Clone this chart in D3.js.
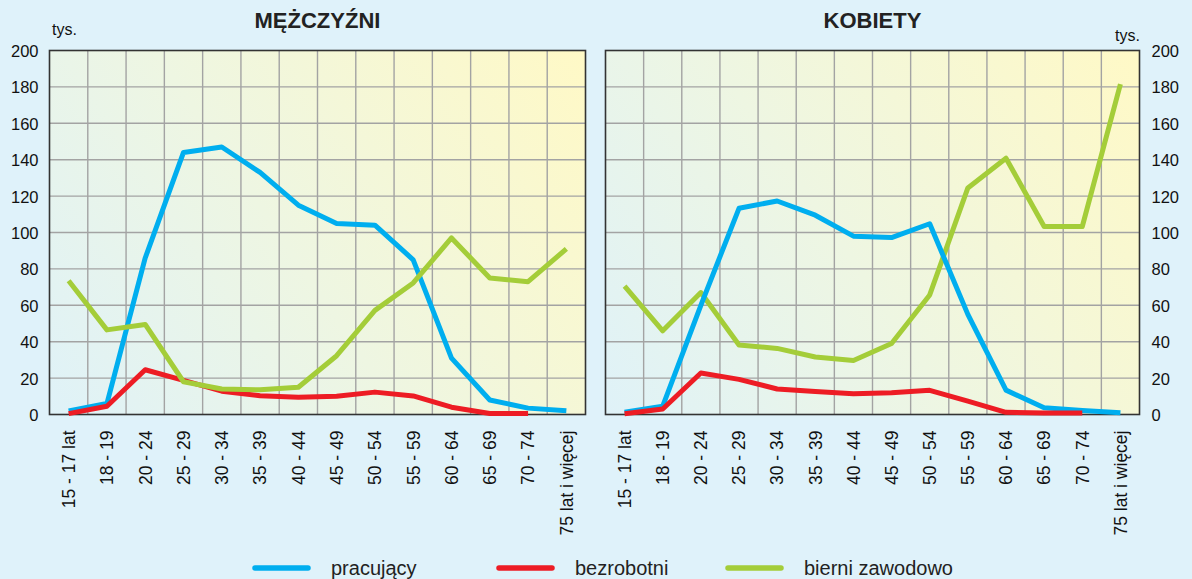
<!DOCTYPE html>
<html>
<head>
<meta charset="utf-8">
<script src="https://cdn.jsdelivr.net/npm/d3@7"></script>
<style>
  html, body { margin: 0; padding: 0; background: #dff2fa; }
  svg { display: block; font-family: "Liberation Sans", Arial, sans-serif; }
</style>
</head>
<body>
<svg id="chart" width="1192" height="579"></svg>
<script>
const categories = ["15 - 17 lat","18 - 19","20 - 24","25 - 29","30 - 34","35 - 39","40 - 44","45 - 49","50 - 54","55 - 59","60 - 64","65 - 69","70 - 74","75 lat i więcej"];
const yTicks = [0,20,40,60,80,100,120,140,160,180,200];

const menEmployed   = [2, 6, 86, 144, 147, 133, 115, 105, 104, 85, 31, 8, 3.5, 2];
const menUnemployed = [0.5, 4.5, 24.6, 18.7, 12.8, 10.3, 9.5, 10, 12.3, 10.2, 4, 0.6, 0.6];
const menInactive   = [73.5, 46.5, 49.5, 18, 14, 13.6, 15, 32.3, 57.2, 72.3, 97, 75, 73, 91];

const womenEmployed   = [1.3, 4.6, 60, 113.3, 117.3, 109.5, 98, 97.2, 104.8, 55, 13.4, 3.7, 2.2, 0.9];
const womenUnemployed = [0.4, 3, 22.8, 19.3, 14, 12.6, 11.4, 12, 13.3, 7.3, 1.2, 0.8, 0.8];
const womenInactive   = [70.6, 46, 67, 38.2, 36.3, 31.6, 29.7, 39, 65.7, 124.5, 140.8, 103.3, 103.3, 181.5];

const seriesNames = ["pracujący", "bezrobotni", "bierni zawodowo"];
const colors = { "pracujący": "#00aeef", "bezrobotni": "#ed1c24", "bierni zawodowo": "#a4cd39" };

const svg = d3.select("#chart");
const defs = svg.append("defs");

const plotTop = 50.5, plotBottom = 414.5;
const y = d3.scaleLinear().domain([0, 200]).range([plotBottom, plotTop]);

function panel(opts) {
  const x = d3.scaleBand().domain(categories).range([opts.left, opts.right]).padding(0);
  const cx = c => x(c) + x.bandwidth() / 2;
  const g = svg.append("g");

  const gid = "grad" + opts.id;
  const grad = defs.append("linearGradient").attr("id", gid)
    .attr("gradientUnits", "userSpaceOnUse")
    .attr("x1", opts.left).attr("y1", plotBottom).attr("x2", opts.right).attr("y2", plotTop);
  grad.append("stop").attr("offset", "0").attr("stop-color", "#dff2f8");
  grad.append("stop").attr("offset", "0.45").attr("stop-color", "#eef6e2");
  grad.append("stop").attr("offset", "1").attr("stop-color", "#fff9c6");

  g.append("rect").attr("x", opts.left).attr("y", plotTop)
    .attr("width", opts.right - opts.left).attr("height", plotBottom - plotTop)
    .attr("fill", `url(#${gid})`);

  // grid
  g.append("g").selectAll("line").data(categories.slice(1)).join("line")
    .attr("x1", d => x(d)).attr("x2", d => x(d)).attr("y1", plotTop).attr("y2", plotBottom)
    .attr("stroke", "#a3a3a3").attr("stroke-width", 1.4);
  g.append("g").selectAll("line").data(yTicks.slice(1, -1)).join("line")
    .attr("x1", opts.left).attr("x2", opts.right).attr("y1", d => y(d)).attr("y2", d => y(d))
    .attr("stroke", "#a3a3a3").attr("stroke-width", 1.4);

  // frame
  g.append("rect").attr("x", opts.left).attr("y", plotTop)
    .attr("width", opts.right - opts.left).attr("height", plotBottom - plotTop)
    .attr("fill", "none").attr("stroke", "#333").attr("stroke-width", 1.6);

  // y axis
  const yAxis = (opts.side === "left" ? d3.axisLeft(y) : d3.axisRight(y))
    .tickValues(yTicks).tickSize(0).tickPadding(opts.side === "left" ? 11 : 12);
  const ya = g.append("g").attr("transform", `translate(${opts.side === "left" ? opts.left : opts.right},0)`).call(yAxis);
  ya.select(".domain").remove();
  ya.selectAll("text").attr("font-size", 16.5).attr("fill", "#111").attr("font-family", "Liberation Sans, Arial, sans-serif").attr("dy", "0.36em");

  // x axis
  const xAxis = d3.axisBottom(x).tickSize(0).tickPadding(0);
  const xa = g.append("g").attr("transform", `translate(0,${plotBottom})`).call(xAxis);
  xa.select(".domain").remove();
  xa.selectAll("text")
    .attr("font-size", 17.5).attr("fill", "#111").attr("font-family", "Liberation Sans, Arial, sans-serif")
    .attr("transform", "rotate(-90)")
    .attr("text-anchor", "end")
    .attr("x", -16).attr("y", 0).attr("dy", "0.36em");

  // title
  g.append("text").attr("x", (opts.left + opts.right) / 2).attr("y", 28)
    .attr("text-anchor", "middle").attr("font-weight", "bold").attr("font-size", 22)
    .attr("fill", "#222").text(opts.title);

  // unit
  g.append("text").attr("x", opts.unitX).attr("y", opts.unitY)
    .attr("text-anchor", "start").attr("font-size", 16).attr("fill", "#111").text("tys.");

  const line = d3.line().x((d, i) => cx(categories[i])).y(d => y(d));
  opts.order.forEach(k => {
    g.append("path").datum(opts.data[k])
      .attr("d", line).attr("fill", "none")
      .attr("stroke", colors[k]).attr("stroke-width", 5)
      .attr("stroke-linejoin", "round").attr("stroke-linecap", "butt");
  });
}

panel({
  id: "m", left: 49.5, right: 585.5, side: "left", title: "MĘŻCZYŹNI",
  unitX: 52, unitY: 35,
  data: { "pracujący": menEmployed, "bezrobotni": menUnemployed, "bierni zawodowo": menInactive },
  order: ["pracujący", "bezrobotni", "bierni zawodowo"]
});
panel({
  id: "k", left: 605.5, right: 1139.5, side: "right", title: "KOBIETY",
  unitX: 1115, unitY: 41,
  data: { "pracujący": womenEmployed, "bezrobotni": womenUnemployed, "bierni zawodowo": womenInactive },
  order: ["bierni zawodowo", "pracujący", "bezrobotni"]
});

// legend
const legendX = [255, 499, 728];
const legend = svg.append("g").selectAll("g").data(seriesNames).join("g")
  .attr("transform", (d, i) => `translate(${legendX[i]},568)`);
legend.append("line").attr("x1", 0).attr("x2", 53).attr("y1", 0).attr("y2", 0)
  .attr("stroke", d => colors[d]).attr("stroke-width", 5.5).attr("stroke-linecap", "round");
legend.append("text").attr("x", 76).attr("y", 6.5).attr("font-size", 20).attr("fill", "#222").text(d => d);
</script>
</body>
</html>
